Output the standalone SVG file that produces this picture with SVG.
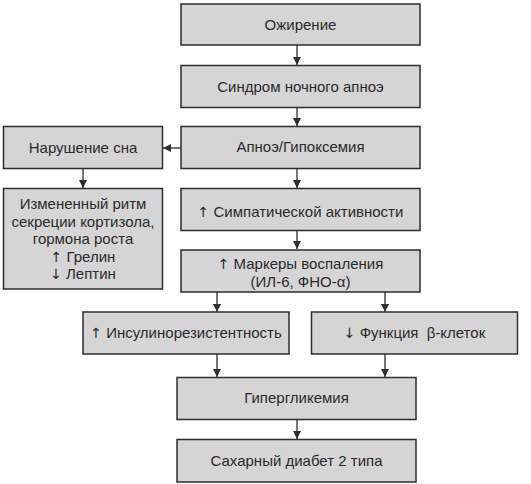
<svg xmlns="http://www.w3.org/2000/svg" width="531" height="484" viewBox="0 0 531 484">
<style>
.box{fill:#d5d5d5;stroke:#2e2e2e;stroke-width:1.5}
text{font-family:"Liberation Sans",Arial,sans-serif;font-size:15px;fill:#2a2a2a;text-anchor:middle}
.ar{font-family:"DejaVu Sans",sans-serif;font-size:14px}
.c{stroke:#2e2e2e;stroke-width:1.3;fill:none}
</style>
<defs>
<marker id="a" viewBox="0 0 8 10" refX="8" refY="5" markerWidth="8" markerHeight="10" markerUnits="userSpaceOnUse" orient="auto">
<path d="M0,1 L8,5 L0,9 Z" fill="#2e2e2e"/>
</marker>
</defs>
<rect width="531" height="484" fill="#fff"/>
<g id="connectors">
<line class="c" x1="297" y1="45" x2="297" y2="65" marker-end="url(#a)"/>
<line class="c" x1="297" y1="107" x2="297" y2="126" marker-end="url(#a)"/>
<line class="c" x1="181" y1="148" x2="163" y2="148" marker-end="url(#a)"/>
<line class="c" x1="83" y1="169" x2="83" y2="188" marker-end="url(#a)"/>
<line class="c" x1="297" y1="169" x2="297" y2="188" marker-end="url(#a)"/>
<line class="c" x1="297" y1="230" x2="297" y2="249" marker-end="url(#a)"/>
<line class="c" x1="217" y1="292" x2="217" y2="312" marker-end="url(#a)"/>
<line class="c" x1="385" y1="292" x2="385" y2="312" marker-end="url(#a)"/>
<line class="c" x1="217" y1="354" x2="217" y2="377" marker-end="url(#a)"/>
<line class="c" x1="385" y1="354" x2="385" y2="377" marker-end="url(#a)"/>
<line class="c" x1="297" y1="419" x2="297" y2="439" marker-end="url(#a)"/>
</g>
<g id="n1"><rect class="box" x="181" y="4" width="239" height="41"/><text x="300.5" y="30">Ожирение</text></g>
<g id="n2"><rect class="box" x="181" y="65.5" width="239" height="42"/><text x="300.5" y="92">Синдром ночного апноэ</text></g>
<g id="n3"><rect class="box" x="181" y="126.5" width="239" height="42"/><text x="300.5" y="152">Апноэ/Гипоксемия</text></g>
<g id="n4"><rect class="box" x="3.5" y="126.5" width="159" height="42"/><text x="83" y="153">Нарушение сна</text></g>
<g id="n5"><rect class="box" x="3.5" y="188.5" width="159" height="100.5"/>
<text x="83" y="209">Измененный ритм</text>
<text x="83" y="226.5">секреции кортизола,</text>
<text x="83" y="244">гормона роста</text>
<text x="83" y="261.5"><tspan class="ar">↑</tspan> Грелин</text>
<text x="83" y="279"><tspan class="ar">↓</tspan> Лептин</text></g>
<g id="n6"><rect class="box" x="181" y="188.5" width="239" height="42"/><text x="300.5" y="217"><tspan class="ar">↑</tspan> Симпатической активности</text></g>
<g id="n7"><rect class="box" x="181" y="250" width="239" height="42"/><text x="300.5" y="269"><tspan class="ar">↑</tspan> Маркеры воспаления</text><text x="300.5" y="287">(ИЛ-6, ФНО-α)</text></g>
<g id="n8"><rect class="box" x="83" y="312" width="206" height="42"/><text x="186" y="338"><tspan class="ar">↑</tspan> Инсулинорезистентность</text></g>
<g id="n9"><rect class="box" x="311.5" y="312" width="206" height="42"/><text x="414.5" y="338"><tspan class="ar">↓</tspan> Функция <tspan dx="4">β-клеток</tspan></text></g>
<g id="n10"><rect class="box" x="177" y="377.5" width="239" height="42"/><text x="296.5" y="403">Гипергликемия</text></g>
<g id="n11"><rect class="box" x="177" y="439.5" width="239" height="42.5"/><text x="296.5" y="466">Сахарный диабет 2 типа</text></g>
</svg>
